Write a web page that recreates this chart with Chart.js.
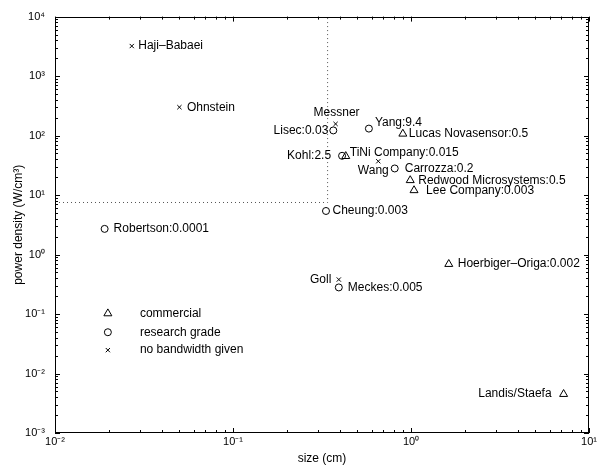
<!DOCTYPE html>
<html><head><meta charset="utf-8">
<script src="https://cdn.jsdelivr.net/npm/chart.js@4/dist/chart.umd.min.js"></script>
<style>html,body{margin:0;padding:0;background:#fff}#wrap{width:603px;height:470px}</style>
</head><body><div id="wrap"><canvas id="c" width="603" height="470"></canvas></div>
<script>
// ---- data ----
const xTickValues = [0.01, 0.1, 1, 10];
const xTickLabels = ['10\u207B\u00B2', '10\u207B\u00B9', '10\u2070', '10\u00B9'];
const yTickValues = [1e-3, 1e-2, 1e-1, 1, 10, 100, 1000, 10000];
const yTickLabels = ['10\u207B\u00B3', '10\u207B\u00B2', '10\u207B\u00B9', '10\u2070', '10\u00B9', '10\u00B2', '10\u00B3', '10\u2074'];

const commercialNames = ['Lucas Novasensor:0.5', 'TiNi Company:0.015', 'Redwood Microsystems:0.5', 'Lee Company:0.003', 'Hoerbiger\u2013Origa:0.002', 'Landis/Staefa'];
const commercialSize  = [0.90, 0.43, 0.99, 1.04, 1.63, 7.2];
const commercialPower = [107, 45, 17.7, 12, 0.69, 0.0045];

const researchNames = ['Robertson:0.0001', 'Lisec:0.03', 'Yang:9.4', 'Kohl:2.5', 'Carrozza:0.2', 'Cheung:0.003', 'Meckes:0.005'];
const researchSize  = [0.019, 0.366, 0.58, 0.41, 0.81, 0.333, 0.393];
const researchPower = [2.7, 122, 131, 45.7, 28, 5.4, 0.28];

const noBwNames = ['Haji\u2013Babaei', 'Ohnstein', 'Messner', 'Wang', 'Goll'];
const noBwSize  = [0.027, 0.05, 0.377, 0.655, 0.393];
const noBwPower = [3200, 300, 157, 37, 0.38];

const thresholdSize  = [0.01, 0.34, 0.34];
const thresholdPower = [7.5, 7.5, 10000];

const legendNames = ['commercial', 'research grade', 'no bandwidth given'];
const xTitle = 'size (cm)';
const yTitle = 'power density (W/cm\u00B3)';

// ---- label placement (style, not data): [align, dx, dy] ----
const commercialPlace = [['left',6,0],['left',4,-4],['left',8,0],['left',12,0],['left',9,0],['right',-12,0]];
const researchPlace   = [['left',9,0],['right',-5,0],['left',6,-6],['right',-11,0],['left',10,0],['left',6.5,0],['left',9,0]];
const noBwPlace       = [['left',6.5,0],['left',7.5,0],['center',1,-11],['center',-5,9],['right',-7.5,0]];

const FONT = '"Liberation Sans", Arial, Helvetica, sans-serif';
const toPts = (xs, ys) => xs.map((x, i) => ({x: x, y: ys[i]}));

const markerStyles = [
  {pointStyle: 'triangle', radius: 4.6},
  {pointStyle: 'circle', radius: 3.5},
  {pointStyle: 'crossRot', radius: 3}
];

function drawMarker(ctx, style, x, y) {
  ctx.save();
  ctx.strokeStyle = '#000';
  ctx.lineWidth = 1;
  ctx.beginPath();
  const r = style.radius;
  if (style.pointStyle === 'circle') {
    ctx.arc(x, y, r, 0, Math.PI * 2);
  } else if (style.pointStyle === 'triangle') {
    for (let k = 0; k < 3; k++) {
      const a = k * 2 * Math.PI / 3;
      const px = x + Math.sin(a) * r, py = y - Math.cos(a) * r;
      if (k === 0) ctx.moveTo(px, py); else ctx.lineTo(px, py);
    }
    ctx.closePath();
  } else {
    const o = Math.cos(Math.PI / 4) * r;
    ctx.moveTo(x - o, y - o); ctx.lineTo(x + o, y + o);
    ctx.moveTo(x - o, y + o); ctx.lineTo(x + o, y - o);
  }
  ctx.stroke();
  ctx.restore();
}

const framePlugin = {
  id: 'frame',
  afterDatasetsDraw(chart) {
    const ctx = chart.ctx;
    const a = chart.chartArea;
    const xs = chart.scales.x, ys = chart.scales.y;
    ctx.save();
    ctx.strokeStyle = '#000';
    ctx.lineWidth = 1;
    // box
    ctx.strokeRect(Math.round(a.left) + 0.5, Math.round(a.top) + 0.5, Math.round(a.right - a.left) - 1, Math.round(a.bottom - a.top) - 1);
    ctx.beginPath();
    // x ticks
    for (let n = -2; n <= 1; n++) {
      for (let k = 1; k <= 9; k++) {
        const v = k * Math.pow(10, n);
        if (v > 10.0001) break;
        const px = Math.round(xs.getPixelForValue(v)) + 0.5;
        const len = k === 1 ? 5 : 3;
        ctx.moveTo(px, a.bottom); ctx.lineTo(px, a.bottom - len);
        ctx.moveTo(px, a.top); ctx.lineTo(px, a.top + len);
      }
    }
    for (let n = -3; n <= 4; n++) {
      for (let k = 1; k <= 9; k++) {
        const v = k * Math.pow(10, n);
        if (v > 10000.1) break;
        const py = Math.round(ys.getPixelForValue(v)) + 0.5;
        const len = k === 1 ? 5 : 3;
        ctx.moveTo(a.left, py); ctx.lineTo(a.left + len, py);
        ctx.moveTo(a.right, py); ctx.lineTo(a.right - len, py);
      }
    }
    ctx.stroke();

    // point labels
    ctx.fillStyle = '#000';
    ctx.font = '12px ' + FONT;
    ctx.textBaseline = 'middle';
    const groups = [[0, commercialNames, commercialPlace], [1, researchNames, researchPlace], [2, noBwNames, noBwPlace]];
    groups.forEach(([di, names, place]) => {
      const meta = chart.getDatasetMeta(di);
      meta.data.forEach((el, i) => {
        const p = place[i];
        ctx.textAlign = p[0];
        ctx.fillText(names[i], el.x + p[1], el.y + p[2]);
      });
    });

    // legend
    const W = a.right - a.left, H = a.bottom - a.top;
    const lx = a.left + 0.099 * W, tx = a.left + 0.159 * W;
    const lys = [0.713, 0.758, 0.801];
    ctx.textAlign = 'left';
    legendNames.forEach((name, i) => {
      const y = a.top + lys[i] * H;
      drawMarker(ctx, markerStyles[i], lx, y);
      ctx.fillText(name, tx, y);
    });
    ctx.restore();
  }
};

const mk = (label, xs, ys, st) => ({
  label: label,
  data: toPts(xs, ys),
  pointStyle: st.pointStyle,
  pointRadius: st.radius,
  pointHoverRadius: st.radius,
  pointBorderColor: '#000',
  pointBackgroundColor: 'rgba(0,0,0,0)',
  pointBorderWidth: 1,
  showLine: false
});

new Chart(document.getElementById('c'), {
  type: 'scatter',
  data: {
    datasets: [
      mk(legendNames[0], commercialSize, commercialPower, markerStyles[0]),
      mk(legendNames[1], researchSize, researchPower, markerStyles[1]),
      mk(legendNames[2], noBwSize, noBwPower, markerStyles[2]),
      {
        label: 'threshold',
        data: toPts(thresholdSize, thresholdPower),
        showLine: true,
        borderColor: '#555',
        borderWidth: 1,
        borderDash: [1, 3],
        pointRadius: 0,
        fill: false
      }
    ]
  },
  options: {
    responsive: false,
    animation: false,
    layout: {padding: {left: 0, right: 14, top: 15, bottom: 0}},
    plugins: {legend: {display: false}, tooltip: {enabled: false}},
    scales: {
      x: {
        type: 'logarithmic', min: 0.01, max: 10,
        grid: {display: false, drawTicks: false}, border: {display: false},
        afterBuildTicks: s => { s.ticks = xTickValues.map(v => ({value: v})); },
        afterFit: s => { s.height = 37; },
        ticks: {
          autoSkip: false, maxRotation: 0, padding: 2, color: '#000',
          font: {family: FONT, size: 11},
          callback: (v, i) => xTickLabels[i]
        },
        title: {display: true, text: xTitle, color: '#000', font: {family: FONT, size: 12}, padding: {top: 0, bottom: 4}}
      },
      y: {
        type: 'logarithmic', min: 1e-3, max: 1e4,
        grid: {display: false, drawTicks: false}, border: {display: false},
        afterBuildTicks: s => { s.ticks = yTickValues.map(v => ({value: v})); },
        afterFit: s => { s.width = 55; },
        ticks: {
          autoSkip: false, padding: 10, color: '#000',
          font: {family: FONT, size: 11},
          callback: (v, i) => yTickLabels[i]
        },
        title: {display: true, text: yTitle, color: '#000', font: {family: FONT, size: 12}, padding: {top: 11, bottom: 0}}
      }
    }
  },
  plugins: [framePlugin]
});
</script>
</body></html>
